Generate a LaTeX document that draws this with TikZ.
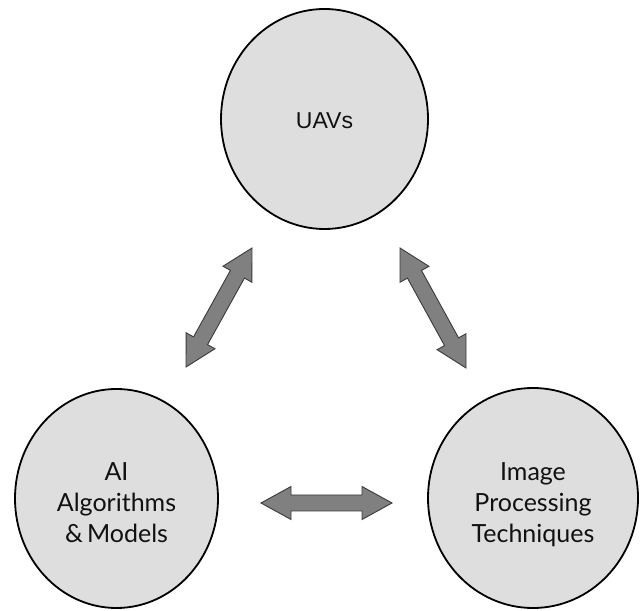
\documentclass[tikz,border=0pt]{standalone}
\usepackage{fontspec}
\setmainfont{Lato}
\newfontfamily\uavfont{Liberation Sans}
\usetikzlibrary{calc,shapes.geometric}

\definecolor{bubblefill}{HTML}{DEDEDE}
\definecolor{arrowfill}{HTML}{808080}
\definecolor{arrowline}{HTML}{3A3A3A}
\definecolor{labeltext}{HTML}{111111}

% block double arrow between two named points
\newcommand\headlen{30pt}
\newcommand\headhw{16.5pt}
\newcommand\shafthw{8pt}
\newcommand\blockarrow[2]{%
  \coordinate (ha) at ($(#1)!\headlen!(#2)$);
  \coordinate (hb) at ($(#2)!\headlen!(#1)$);
  \draw[blockarrowstyle] (#1)
    -- ($(ha)!\headhw!90:(#2)$) -- ($(ha)!\shafthw!90:(#2)$)
    -- ($(hb)!\shafthw!-90:(#1)$) -- ($(hb)!\headhw!-90:(#1)$)
    -- (#2)
    -- ($(hb)!\headhw!90:(#1)$) -- ($(hb)!\shafthw!90:(#1)$)
    -- ($(ha)!\shafthw!-90:(#2)$) -- ($(ha)!\headhw!-90:(#2)$)
    -- cycle;}

\tikzset{
  bubble/.style={ellipse, draw=black, line width=1.8pt, fill=bubblefill, inner sep=0pt},
  bubbletext/.style={text=labeltext, align=center, inner sep=0pt,
    font=\fontsize{25}{31}\selectfont},
  blockarrowstyle/.style={fill=arrowfill, draw=arrowline, line width=0.9pt, line join=miter}
}

\begin{document}
\begin{tikzpicture}[x=1pt,y=1pt]
  \useasboundingbox (0,0) rectangle (642,610);

  % the three topics
  \node[bubble, minimum width=207pt, minimum height=220pt,
    label={[bubbletext, yshift=-2pt, font=\uavfont\fontsize{23}{27}\selectfont]center:UAVs}]
    (uav) at (324.5,491) {};
  \node[bubble, minimum width=203pt, minimum height=219pt,
    label={[bubbletext, yshift=-4pt]center:{AI\\Algorithms\\\&\,Models}}]
    (ai) at (116.5,111.5) {};
  \node[bubble, minimum width=210pt, minimum height=220pt,
    label={[bubbletext, yshift=-7pt]center:{Image\\Processing\\Techniques}}]
    (img) at (533,112) {};

  % arrow end points
  \coordinate (a1) at (186,243);
  \coordinate (a2) at (252,362);
  \coordinate (b1) at (400,362);
  \coordinate (b2) at (466,242);
  \coordinate (c1) at (261,107);
  \coordinate (c2) at (392,107);

  \blockarrow{a1}{a2}
  \blockarrow{b1}{b2}
  \blockarrow{c1}{c2}
\end{tikzpicture}
\end{document}
